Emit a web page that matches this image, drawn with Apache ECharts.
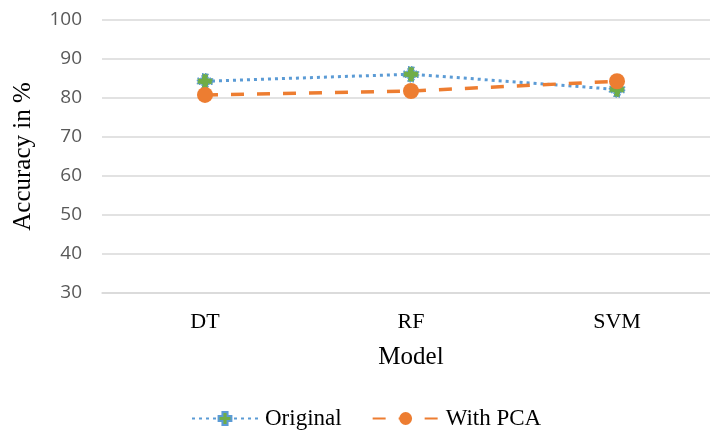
<!DOCTYPE html>
<html>
<head>
<meta charset="utf-8">
<script src="https://cdn.jsdelivr.net/npm/echarts@6/dist/echarts.min.js"></script>
<style>
  html, body { margin: 0; padding: 0; background: #fff; overflow: hidden; }
  #chart { width: 730px; height: 436px; }
</style>
</head>
<body>
<div id="chart"></div>
<script>
// Models compared and their accuracy (%)
const models = ['DT', 'RF', 'SVM'];
const originalAcc = [84.3, 86.1, 82.2];
const pcaAcc = [80.8, 81.8, 84.3];
const yTicks = { min: 30, max: 100, step: 10 };

// Green plus marker used for the "Original" series
const plusPath = 'path://M3,0 L7,0 L7,3 L10,3 L10,7 L7,7 L7,10 L3,10 L3,7 L0,7 L0,3 L3,3 Z';

const serif = '"Liberation Serif", "Times New Roman", serif';
const chart = echarts.init(document.getElementById('chart'));
chart.setOption({
  animation: false,
  backgroundColor: '#ffffff',
  // plot area runs slightly past the right edge of the visible page
  grid: { left: 102, right: 10, top: 20, bottom: 143 },
  legend: {
    bottom: 1,
    left: 186,
    itemWidth: 66,
    itemHeight: 16,
    itemGap: 30,
    textStyle: { fontFamily: serif, fontSize: 23, color: '#000', padding: [0, 0, 0, 2] },
    data: ['Original', 'With PCA']
  },
  xAxis: {
    type: 'category',
    data: models,
    boundaryGap: true,
    name: 'Model',
    nameLocation: 'middle',
    nameGap: 52,
    nameTextStyle: { fontFamily: serif, fontSize: 25, color: '#000' },
    axisLine: { show: true, lineStyle: { color: '#d9d9d9', width: 1.5 } },
    axisTick: { show: false },
    axisLabel: { fontFamily: serif, fontSize: 22, color: '#000', margin: 18 }
  },
  yAxis: {
    type: 'value',
    min: yTicks.min,
    max: yTicks.max,
    interval: yTicks.step,
    name: 'Accuracy in %',
    nameLocation: 'middle',
    nameGap: 66,
    nameTextStyle: { fontFamily: serif, fontSize: 25, color: '#000' },
    axisLine: { show: false },
    axisTick: { show: false },
    axisLabel: { fontFamily: '"Open Sans", "Liberation Sans", sans-serif', fontSize: 19, color: '#595959', margin: 20 },
    splitLine: { lineStyle: { color: '#d9d9d9', width: 1.5 } }
  },
  series: [
    {
      name: 'Original',
      type: 'line',
      data: originalAcc,
      symbol: plusPath,
      symbolSize: 15,
      itemStyle: { color: '#70ad47', borderColor: '#5b9bd5', borderWidth: 1.5, borderType: 'dotted' },
      lineStyle: { color: '#5b9bd5', width: 3, type: [3, 4] },
      z: 3
    },
    {
      name: 'With PCA',
      type: 'line',
      data: pcaAcc,
      symbol: 'circle',
      symbolSize: 16,
      itemStyle: { color: '#ed7d31' },
      lineStyle: { color: '#ed7d31', width: 3.5, type: [13, 13] },
      z: 4
    }
  ]
});
</script>
</body>
</html>
